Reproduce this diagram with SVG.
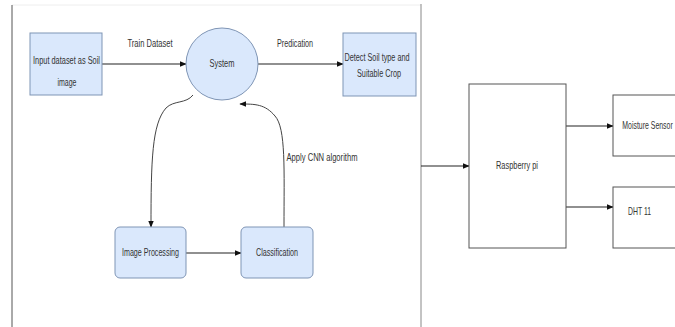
<svg xmlns="http://www.w3.org/2000/svg" width="675" height="327" viewBox="0 0 675 327">
<style>
.b{fill:#dae8fc;stroke:#7f95b5;stroke-width:1}
.w{fill:#fff;stroke:#555;stroke-width:1}
.t{font-family:"Liberation Sans",Arial,sans-serif;font-size:11px;fill:#333;text-anchor:middle}
.c{fill:none;stroke:#222;stroke-width:1.2}
.cc{fill:none;stroke:#444;stroke-width:1}
</style>
<defs>
<marker id="a" viewBox="0 0 10 10" refX="9" refY="5" markerWidth="7" markerHeight="7" orient="auto" markerUnits="userSpaceOnUse">
<path d="M0,1 L10,5 L0,9 z" fill="#111"/>
</marker>
</defs>
<rect width="675" height="327" fill="#fff"/>
<line x1="12" y1="5" x2="421" y2="5" stroke="#eee" stroke-width="1"/>
<line x1="12" y1="5" x2="12" y2="327" stroke="#555" stroke-width="1"/>
<line x1="421" y1="4" x2="421" y2="327" stroke="#888" stroke-width="1"/>

<g id="connectors">
<path class="c" d="M102,64 L186,64" marker-end="url(#a)"/>
<path class="c" d="M258,64 L343,64" marker-end="url(#a)"/>
<path class="cc" d="M193,95 C186,104 174,100 166,108 C152,124 151,160 151,227" marker-end="url(#a)"/>
<path class="cc" d="M284,227 C284,170 286,128 275,116 C265,104 255,104 240,104" marker-end="url(#a)"/>
<path class="c" d="M186,253 L241,253" marker-end="url(#a)"/>
<path class="c" d="M421,166 L469,166" marker-end="url(#a)"/>
<path class="c" d="M566,126 L613,126" marker-end="url(#a)"/>
<path class="c" d="M566,207 L613,207" marker-end="url(#a)"/>
<text class="t" x="150" y="47" textLength="45" lengthAdjust="spacingAndGlyphs">Train Dataset</text>
<text class="t" x="295" y="47" textLength="36" lengthAdjust="spacingAndGlyphs">Predication</text>
<text class="t" x="322" y="161" textLength="71" lengthAdjust="spacingAndGlyphs">Apply CNN algorithm</text>
</g>

<g id="input">
<rect class="b" x="30" y="33" width="72" height="62"/>
<text class="t" x="66.5" y="64" textLength="67" lengthAdjust="spacingAndGlyphs">Input dataset as Soil</text>
<text class="t" x="67" y="86" textLength="19" lengthAdjust="spacingAndGlyphs">image</text>
</g>

<g id="system">
<circle class="b" cx="222" cy="64" r="36"/>
<text class="t" x="222" y="67" textLength="25" lengthAdjust="spacingAndGlyphs">System</text>
</g>

<g id="detect">
<rect class="b" x="343" y="33" width="73" height="63"/>
<text class="t" x="377" y="61" textLength="65" lengthAdjust="spacingAndGlyphs">Detect Soil type and</text>
<text class="t" x="379" y="77" textLength="44" lengthAdjust="spacingAndGlyphs">Suitable Crop</text>
</g>

<g id="imageproc">
<rect class="b" x="115" y="227" width="71" height="51" rx="5"/>
<text class="t" x="150.5" y="256" textLength="57" lengthAdjust="spacingAndGlyphs">Image Processing</text>
</g>

<g id="classification">
<rect class="b" x="241" y="227" width="72" height="51" rx="5"/>
<text class="t" x="277" y="256" textLength="42" lengthAdjust="spacingAndGlyphs">Classification</text>
</g>

<g id="raspberry">
<rect class="w" x="469" y="84" width="97" height="164"/>
<text class="t" x="517" y="169" textLength="42" lengthAdjust="spacingAndGlyphs">Raspberry pi</text>
</g>

<g id="moisture">
<rect class="w" x="613" y="95" width="80" height="61"/>
<text class="t" transform="scale(0.63,1)" x="1027.8" y="129">Moisture Sensor</text>
</g>

<g id="dht">
<rect class="w" x="613" y="187" width="80" height="61"/>
<text class="t" x="639.5" y="215" textLength="23" lengthAdjust="spacingAndGlyphs">DHT 11</text>
</g>
</svg>
